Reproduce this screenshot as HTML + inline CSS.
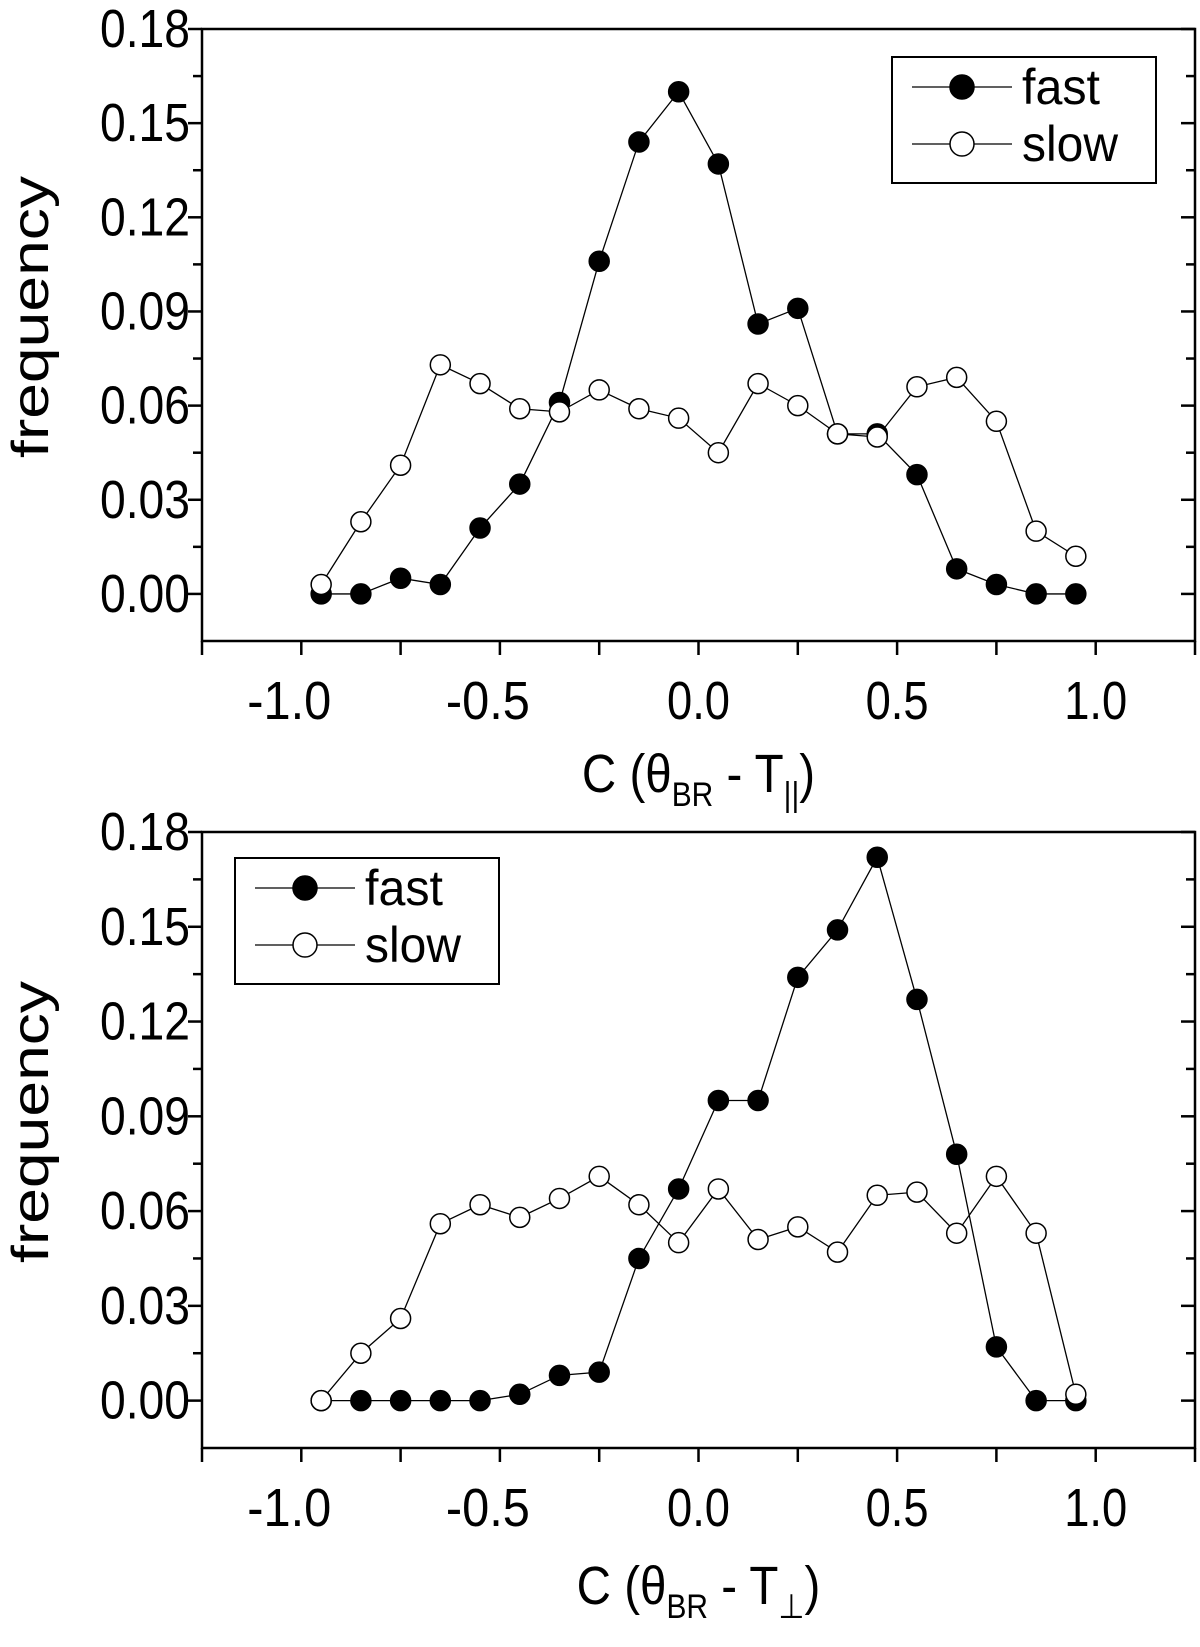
<!DOCTYPE html>
<html><head><meta charset="utf-8"><style>
html,body{margin:0;padding:0;background:#fff;}
svg text{font-family:"Liberation Sans",Arial,sans-serif;fill:#000;}
</style></head><body>
<svg id="chart" width="1200" height="1642" viewBox="0 0 1200 1642" xmlns="http://www.w3.org/2000/svg"></svg>
<script>
const categories = [-0.95,-0.85,-0.75,-0.65,-0.55,-0.45,-0.35,-0.25,-0.15,-0.05,0.05,0.15,0.25,0.35,0.45,0.55,0.65,0.75,0.85,0.95];
const topFast = [0,0,0.005,0.003,0.021,0.035,0.061,0.106,0.144,0.160,0.137,0.086,0.091,0.051,0.051,0.038,0.008,0.003,0,0];
const topSlow = [0.003,0.023,0.041,0.073,0.067,0.059,0.058,0.065,0.059,0.056,0.045,0.067,0.060,0.051,0.050,0.066,0.069,0.055,0.020,0.012];
const botFast = [0,0,0,0,0,0.002,0.008,0.009,0.045,0.067,0.095,0.095,0.134,0.149,0.172,0.127,0.078,0.017,0,0];
const botSlow = [0,0.015,0.026,0.056,0.062,0.058,0.064,0.071,0.062,0.050,0.067,0.051,0.055,0.047,0.065,0.066,0.053,0.071,0.053,0.002];
const yTicks = [0,0.03,0.06,0.09,0.12,0.15,0.18];
const yTickLabels = ["0.00","0.03","0.06","0.09","0.12","0.15","0.18"];
const xTicks = [-1,-0.5,0,0.5,1];
const xTickLabels = ["-1.0","-0.5","0.0","0.5","1.0"];

const NS="http://www.w3.org/2000/svg";
const svg=document.getElementById('chart');
function mk(tag,attrs,parent){const e=document.createElementNS(NS,tag);for(const k in attrs)e.setAttribute(k,attrs[k]);(parent||svg).appendChild(e);return e;}

function panel(cfg){
  const g=mk('g',{});
  
  
  const L=202,R=1195,T=cfg.top,B=cfg.bottom;
  const xmin=-1.25,xmax=1.25,ymin=-0.015,ymax=0.18;
  const sx=v=>L+(v-xmin)/(xmax-xmin)*(R-L);
  const sy=v=>B-(v-ymin)/(ymax-ymin)*(B-T);
  const frame=mk('rect',{x:L,y:T,width:R-L,height:B-T,fill:'none',stroke:'#000','stroke-width':2.5},g);
  
  
  for(let v=0;v<=0.1801;v+=0.015){
    const major=Math.abs(Math.round(v/0.03)*0.03-v)<1e-6;
    const len=major?14:9;
    mk('line',{x1:L-len,x2:L,y1:sy(v),y2:sy(v),stroke:'#000','stroke-width':2.5},g);
    mk('line',{x1:R-len,x2:R,y1:sy(v),y2:sy(v),stroke:'#000','stroke-width':2.5},g);
  }
  yTicks.forEach((v,i)=>{
    const t=mk('text',{x:L-12,y:sy(v)+18,'text-anchor':'end','font-size':54,textLength:90,lengthAdjust:'spacingAndGlyphs'},g);
    
    
    t.textContent=yTickLabels[i];
  });
  for(let v=-1.25;v<=1.2501;v+=0.25){
    mk('line',{x1:sx(v),x2:sx(v),y1:B,y2:B+14,stroke:'#000','stroke-width':2.5},g);
  }
  xTicks.forEach((v,i)=>{
    const t=mk('text',{x:sx(v)-(v<0?12:0),y:B+78,'text-anchor':'middle','font-size':54,textLength:(v<0?84:63),lengthAdjust:'spacingAndGlyphs'},g);
    
    
    t.textContent=xTickLabels[i];
  });
  const yl=mk('text',{x:0,y:0,'text-anchor':'middle','font-size':52,textLength:282,lengthAdjust:'spacingAndGlyphs',transform:`translate(48,${(T+B)/2-18}) rotate(-90)`},g);
  
  
  yl.textContent='frequency';
  const xl=mk('text',{x:(L+R)/2,y:cfg.titleY,'text-anchor':'middle','font-size':54},g);
  
  
  xl.setAttribute('transform',`translate(${(L+R)/2},0) scale(0.88,1) translate(${-(L+R)/2},0)`);
  xl.innerHTML='C (θ<tspan font-size="34" dy="14">BR</tspan><tspan dy="-14"> - T</tspan><tspan font-size="34" dy="14">'+cfg.sub+'</tspan><tspan dy="-14">)</tspan>';
  function series(vals,fill,name){
    const pts=categories.map((c,i)=>sx(c)+','+sy(vals[i])).join(' ');
    const pl=mk('polyline',{points:pts,fill:'none',stroke:'#000','stroke-width':1.3},g);
    
    
    categories.forEach((c,i)=>{
      const ci=mk('circle',{cx:sx(c),cy:sy(vals[i]),r:10,fill:fill,stroke:'#000','stroke-width':1.5},g);
      
      
    });
  }
  series(cfg.fast,'#000','fast');
  series(cfg.slow,'#fff','slow');
  const lg=mk('g',{},g);
  
  
  const lx=cfg.legX,ly=cfg.legY;
  mk('rect',{x:lx,y:ly,width:264,height:126,fill:'#fff',stroke:'#000','stroke-width':2},lg);
  [['fast','#000'],['slow','#fff']].forEach(([n,f],i)=>{
    const yy=ly+30+i*57;
    const e=mk('g',{},lg);
    
    
    mk('line',{x1:lx+20,x2:lx+120,y1:yy,y2:yy,stroke:'#000','stroke-width':1.3},e);
    mk('circle',{cx:lx+70,cy:yy,r:12,fill:f,stroke:'#000','stroke-width':1.5},e);
    const t=mk('text',{x:lx+130,y:yy+17,'font-size':50,textLength:(n==='fast'?78:96),lengthAdjust:'spacingAndGlyphs'},e);
    t.textContent=n;
  });
}
panel({name:'top-panel',top:29,bottom:641,titleY:792,sub:'||',fast:topFast,slow:topSlow,legX:892,legY:57});
panel({name:'bottom-panel',top:832,bottom:1448,titleY:1604,sub:'⊥',fast:botFast,slow:botSlow,legX:235,legY:858});
</script>
</body></html>
